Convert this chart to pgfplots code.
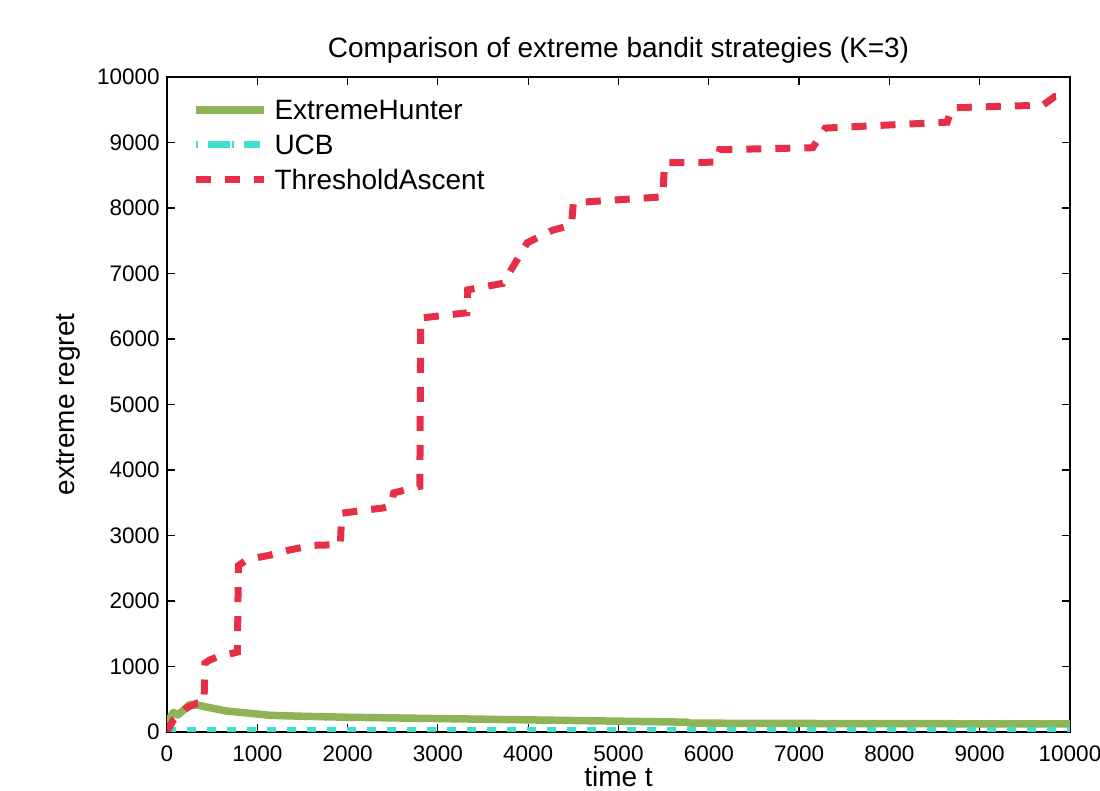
\documentclass[border=0pt]{standalone}
\usepackage{fontspec}
\setmainfont{Liberation Sans}
\usepackage{pgfplots}
\pgfplotsset{compat=1.18}
\definecolor{ehgreen}{RGB}{143,180,87}
\definecolor{ucbcyan}{RGB}{64,224,208}
\definecolor{tared}{RGB}{230,46,70}
\begin{document}
\begin{tikzpicture}
\begin{axis}[
  name=ax,
  scale only axis,
  width=451.5pt, height=327.5pt,
  xmin=0, xmax=10000, ymin=0, ymax=10000,
  xtick={0,1000,...,10000}, ytick={0,1000,...,10000},
  minor tick num=0,
  scaled ticks=false,
  /pgf/number format/set thousands separator={},
  /pgf/number format/assume math mode=true,
  tick align=inside,
  major tick length=4pt,
  tick style={black, line width=0.6pt},
  axis line style={line width=0.8pt},
  ticklabel style={font=\fontsize{11.25}{13}\selectfont},
  xticklabel style={anchor=north, inner sep=0pt, yshift=-6.5pt},
  yticklabel style={anchor=east, inner sep=0pt, xshift=-3.5pt},
  title={Comparison of extreme bandit strategies (K=3)},
  title style={font=\fontsize{14}{16}\selectfont, at={(axis description cs:0.5,1.0115)}, anchor=base, inner sep=0pt},
  xlabel={time t},
  xlabel style={font=\fontsize{14}{16}\selectfont, at={(axis description cs:0.5,-0.0838)}, anchor=base, inner sep=0pt},
  ylabel={extreme regret},
  ylabel style={font=\fontsize{14}{16}\selectfont, at={(axis description cs:-0.1096,0.5)}, anchor=center, inner sep=0pt},
  legend style={at={(axis description cs:0.0277,0.965)}, anchor=north west, draw=none, fill=none,
    font=\fontsize{14}{16}\selectfont, inner sep=0pt, outer sep=0pt, row sep=7.5pt, column sep=3.5pt,
    nodes={inner sep=0pt, text height=10pt, text depth=0pt}},
  legend cell align=left,
  legend image code/.code={\draw[#1] (0pt,0pt) -- (34pt,0pt);},
]
\addplot[ehgreen, line width=3.75pt, line join=round] coordinates {
(0,140) (70,300) (120,260) (180,330) (250,420) (340,410) (475,370) (660,320)
(885,290) (1140,255) (1500,240) (2000,225) (2500,215) (3000,205) (3500,195)
(4000,185) (4500,175) (5000,165) (5500,155) (5750,150) (5800,135) (7000,130)
(8000,128) (9000,125) (10000,125)
};
\addlegendentry{ExtremeHunter}
\addplot[ucbcyan, line width=4pt, dash pattern=on 4.5pt off 5.5pt,
  legend image code/.code={\draw[ucbcyan, line width=3.5pt, dash pattern=on 1pt off 5pt on 11pt off 1pt on 1pt off 5pt on 8pt off 5pt] (0pt,0pt) -- (34pt,0pt);}]
 coordinates {
(0,15) (10000,15)
};
\addlegendentry{UCB}
\addplot[tared, line width=3.5pt, line cap=butt, dash pattern=on 7.5pt off 7pt] coordinates {
(0,0) (10,30) (70,180) (140,260) (220,370) (330,440) (410,450) (420,1050)
(475,1100) (565,1150) (720,1200) (780,1220) (790,2540) (885,2630) (1140,2700)
(1360,2780) (1620,2850) (1920,2860) (1935,3340) (2210,3390) (2390,3420)
(2480,3450) (2510,3650) (2770,3740) (2800,3750) (2810,6320) (3320,6400)
(3330,6750) (3720,6850) (3830,7100) (3990,7470) (4270,7660) (4480,7740)
(4500,8080) (5490,8170) (5510,8690) (6090,8700) (6120,8890) (7150,8920)
(7290,9220) (8640,9310) (8690,9530) (9700,9570) (9830,9700) (10000,9720)
};
\addlegendentry{ThresholdAscent}
\end{axis}
\pgfresetboundingbox
\path[use as bounding box] ([xshift=-83.5pt,yshift=-29.5pt]ax.south west) rectangle ([xshift=466.5pt,yshift=366pt]ax.south west);
\end{tikzpicture}
\end{document}
